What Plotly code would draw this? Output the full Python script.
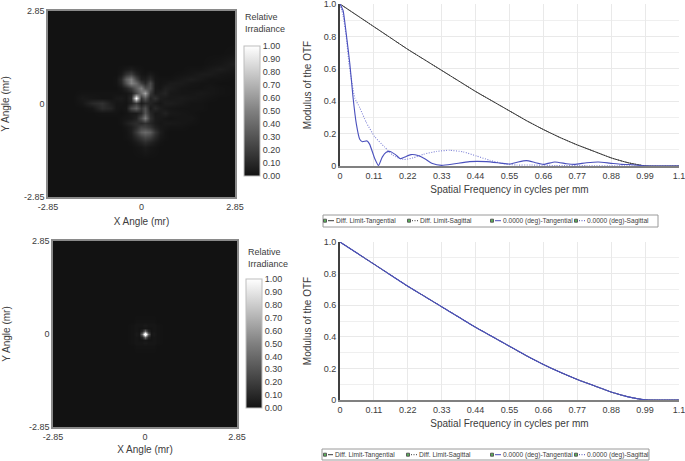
import numpy as np
import plotly.graph_objects as go

W, H = 685, 461

# ---- data ----
psf1_x = [-2.85,-2.4,-2.1,-1.8,-1.5,-1.2,-0.93,-0.78,-0.63,-0.48,-0.33,-0.18,-0.03,0.12,0.27,0.42,0.57,0.72,0.87,1.2,1.5,1.8,2.1,2.4,2.85]
psf1_y_top_down = [2.85,2.3,1.9,1.55,1.23,1.08,0.93,0.78,0.63,0.48,0.33,0.18,0.03,-0.12,-0.27,-0.42,-0.57,-0.72,-0.87,-1.02,-1.17,-1.32,-1.7,-2.2,-2.85]
psf1_percent = [
[0,0,0,0,0,0, 0,0,0,0,0,0,0,0,0,0,0,0,0, 0,0,0,0,0,0],
[0,0,0,0,0,0, 0,0,0,0,0,0,0,0,0,0,0,0,0, 0,0,0,0,0,0],
[0,0,0,0,0,0, 0,0,0,0,0,0,0,0,0,0,0,0,0, 0,0,0,0,0,0],
[0,0,0,0,0,0, 0,0,0,0,0,0,0,0,0,0,0,0,0, 0,0,0,0,0,1],
[0,0,0,0,0,0, 0,0,0,0,0,0,0,0,0,0,0,0,0, 0,0,0,1,2,5],
[0,0,0,0,0,0, 0,0,1,3,5,2,1,0,0,0,0,0,0, 0,1,1,3,5,2],
[0,0,0,0,0,0, 0,0,3,14,20,8,2,1,4,1,0,0,0, 1,2,4,4,2,1],
[0,0,0,0,0,0, 0,1,10,36,50,24,6,5,12,2,1,1,1, 3,5,3,1,1,0],
[0,0,0,0,0,0, 0,1,8,30,52,40,20,10,26,3,1,2,4, 4,2,1,1,0,0],
[0,0,0,0,0,0, 0,0,2,8,18,34,50,28,28,3,2,6,5, 2,1,1,2,1,0],
[0,0,0,1,1,1, 1,1,1,2,5,24,42,64,18,4,6,8,3, 2,2,3,2,1,0],
[0,0,0,3,2,1, 1,3,4,2,10,100,16,32,8,14,5,4,3, 4,3,2,1,0,0],
[0,0,0,2,10,14, 5,2,2,1,6,18,4,10,8,4,2,5,5, 3,1,1,0,0,0],
[0,0,0,0,2,12, 8,2,1,2,24,36,16,28,4,10,5,3,2, 1,1,1,0,0,0],
[0,0,0,0,0,1, 1,1,0,1,3,4,10,30,10,3,4,7,3, 2,1,0,0,0,0],
[0,0,0,0,0,0, 0,0,1,2,3,7,26,48,14,4,3,2,1, 2,2,0,0,0,0],
[0,0,0,0,0,0, 0,0,1,5,9,12,10,14,9,4,2,3,3, 2,1,0,0,0,0],
[0,0,0,0,0,0, 0,0,0,2,5,12,22,22,16,7,3,2,1, 1,0,0,0,0,0],
[0,0,0,0,0,0, 0,0,0,1,5,18,34,40,34,16,5,1,0, 0,0,0,0,0,0],
[0,0,0,0,0,0, 0,0,0,1,3,10,18,24,20,10,3,1,0, 0,0,0,0,0,0],
[0,0,0,0,0,0, 0,0,0,0,1,4,8,12,8,4,1,0,0, 0,0,0,0,0,0],
[0,0,0,0,0,0, 0,0,0,0,0,1,2,4,2,1,0,0,0, 0,0,0,0,0,0],
[0,0,0,0,0,0, 0,0,0,0,0,0,0,0,0,0,0,0,0, 0,0,0,0,0,0],
[0,0,0,0,0,0, 0,0,0,0,0,0,0,0,0,0,0,0,0, 0,0,0,0,0,0],
[0,0,0,0,0,0, 0,0,0,0,0,0,0,0,0,0,0,0,0, 0,0,0,0,0,0],
]

psf2_x = [-2.85,-0.6,-0.36,-0.27,-0.18,-0.09,-0.045,0,0.045,0.09,0.18,0.27,0.36,0.6,2.85]
psf2_y = [-2.85,-0.6,-0.36,-0.27,-0.18,-0.09,-0.045,0,0.045,0.09,0.18,0.27,0.36,0.6,2.85]
psf2_percent = [
[0,0,0,0,0,0,0,0,0,0,0,0,0,0,0],
[0,0,0,0,0,0,0,0,0,0,0,0,0,0,0],
[0,0,0,1,1,1,1,1,1,1,1,1,0,0,0],
[0,0,1,2,2,2,3,3,3,2,2,2,1,0,0],
[0,0,1,2,1,1,2,2,2,1,1,2,1,0,0],
[0,0,1,2,1,10,30,45,30,10,1,2,1,0,0],
[0,0,1,3,2,30,80,100,80,30,2,3,1,0,0],
[0,0,1,3,2,45,100,100,100,45,2,3,1,0,0],
[0,0,1,3,2,30,80,100,80,30,2,3,1,0,0],
[0,0,1,2,1,10,30,45,30,10,1,2,1,0,0],
[0,0,1,2,1,1,2,2,2,1,1,2,1,0,0],
[0,0,1,2,2,2,3,3,3,2,2,2,1,0,0],
[0,0,0,1,1,1,1,1,1,1,1,1,0,0,0],
[0,0,0,0,0,0,0,0,0,0,0,0,0,0,0],
[0,0,0,0,0,0,0,0,0,0,0,0,0,0,0],
]

diff_x = [0,0.055,0.11,0.165,0.22,0.275,0.33,0.385,0.44,0.495,0.55,0.605,0.66,0.715,0.77,0.825,0.88,0.935,0.99,1.1]
diff_y = [1,0.93,0.86,0.79,0.72,0.655,0.59,0.525,0.46,0.40,0.34,0.28,0.225,0.175,0.13,0.09,0.05,0.02,0.001,0]

tan_x = [0,0.01,0.02,0.032,0.042,0.053,0.064,0.073,0.088,0.096,0.113,0.125,0.137,0.15,0.163,0.18,0.196,0.21,0.23,0.253,0.275,0.30,0.33,0.367,0.42,0.475,0.52,0.55,0.578,0.605,0.632,0.66,0.697,0.735,0.76,0.80,0.838,0.875,0.913,0.95,0.985,1.02,1.1]
tan_y = [1,0.96,0.82,0.63,0.43,0.26,0.165,0.15,0.155,0.135,0.045,0.003,0.055,0.085,0.09,0.07,0.045,0.055,0.07,0.065,0.045,0.015,0.004,0.012,0.027,0.027,0.018,0.012,0.025,0.033,0.022,0.01,0.025,0.014,0.01,0.02,0.025,0.018,0.01,0.008,0.002,0,0]

sag_x = [0,0.01,0.02,0.03,0.04,0.048,0.064,0.085,0.113,0.145,0.172,0.205,0.237,0.27,0.313,0.356,0.40,0.443,0.486,0.53,0.573,0.62,0.7,0.8,0.9,1.0,1.1]
sag_y = [1,0.93,0.80,0.62,0.50,0.42,0.36,0.27,0.18,0.117,0.066,0.04,0.05,0.072,0.09,0.097,0.087,0.062,0.035,0.015,0.006,0.006,0.003,0.002,0.001,0,0]

series_names = ["Diff. Limit-Tangential","Diff. Limit-Sagittal","0.0000 (deg)-Tangential","0.0000 (deg)-Sagittal"]
freq_ticks = [0,0.11,0.22,0.33,0.44,0.55,0.66,0.77,0.88,0.99,1.1]
freq_labels = ["0","0.11","0.22","0.33","0.44","0.55","0.66","0.77","0.88","0.99","1.1"]
otf_ticks = [0,0.2,0.4,0.6,0.8,1.0]
otf_labels = ["0","0.2","0.4","0.6","0.8","1.0"]
angle_ticks = [-2.85,0,2.85]
angle_labels = ["-2.85","0","2.85"]
cbar_ticks = [0,0.1,0.2,0.3,0.4,0.5,0.6,0.7,0.8,0.9,1.0]
# ------------------------------------

FONT = "Liberation Sans"
TXT = "#3c3c3c"
BLUE = "#4a50bd"
DARK = "#3a3a3a"
GREY = [[0, "#121212"], [0.5, "#808080"], [1, "#ffffff"]]

def fx(p): return p / W
def fy(p): return 1 - p / H

fig = go.Figure()

def add_psf(x, y, z, xa, ya, cb_x, cb_top, cb_bot):
    fig.add_trace(go.Heatmap(
        x=x, y=y, z=np.array(z) / 100, xaxis=xa, yaxis=ya, zmin=0, zmax=1,
        zsmooth="best", colorscale=GREY, hoverinfo="skip",
        colorbar=dict(
            x=fx(cb_x), xanchor="left", xpad=0, ypad=0, thickness=16,
            y=fy(cb_bot), yanchor="bottom", len=cb_bot - cb_top, lenmode="pixels",
            outlinecolor="#bdbdbd", outlinewidth=1, tickvals=cbar_ticks,
            ticktext=[f"{t:.2f}" for t in cbar_ticks], ticks="",
            tickfont=dict(family=FONT, size=9, color=TXT))))

add_psf(psf1_x, psf1_y_top_down[::-1], psf1_percent[::-1], "x", "y", 244, 46, 176)
add_psf(psf2_x, psf2_y, psf2_percent, "x2", "y2", 246, 279, 408)

def add_otf(xa, ya, blue_x_t, blue_y_t, blue_x_s, blue_y_s, order):
    entries = [
        (series_names[0], diff_x, diff_y, DARK, "solid", 1),
        (series_names[1], diff_x, diff_y, DARK, "1px,1.5px", 1),
        (series_names[2], blue_x_t, blue_y_t, BLUE, "solid", 1.1),
        (series_names[3], blue_x_s, blue_y_s, "#7f83d6", "1px,1.5px", 1.1)]
    for i in order:
        name, xs, ys, col, dash, wd = entries[i]
        fig.add_trace(go.Scatter(x=xs, y=ys, xaxis=xa, yaxis=ya, name=name, mode="lines",
                                 showlegend=False, cliponaxis=False,
                                 line=dict(color=col, dash=dash, width=wd, shape="spline", smoothing=0.5)))

add_otf("x3", "y3", tan_x, tan_y, sag_x, sag_y, [0, 1, 3, 2])
add_otf("x4", "y4", diff_x, diff_y, diff_x, diff_y, [0, 1, 3, 2])

tf = dict(family=FONT, size=9, color=TXT)
ttl = dict(family=FONT, size=10, color=TXT)

def angle_axes(xn, yn, l, r, t, b, xstand):
    fig.update_layout({
        xn: dict(domain=[fx(l), fx(r)], range=[-2.85, 2.85], tickvals=angle_ticks, ticktext=angle_labels,
                 tickfont=tf, showgrid=False, zeroline=False, showline=True, linecolor="#8a8a8a", linewidth=1.5,
                 mirror=True, ticks="", ticklabeloverflow="allow",
                 title=dict(text="X Angle (mr)", font=ttl, standoff=xstand)),
        yn: dict(domain=[fy(b), fy(t)], range=[-2.85, 2.85], tickvals=angle_ticks, ticktext=angle_labels,
                 tickfont=tf, showgrid=False, zeroline=False, showline=True, linecolor="#8a8a8a", linewidth=1.5,
                 mirror=True, ticks="", ticklabeloverflow="allow",
                 title=dict(text="Y Angle (mr)", font=ttl, standoff=16)),
    })

def otf_axes(xn, yn, anchor_x, anchor_y, l, r, t, b):
    fig.update_layout({
        xn: dict(domain=[fx(l), fx(r)], range=[0, 1.1], tickvals=freq_ticks, ticktext=freq_labels, anchor=anchor_y,
                 tickfont=tf, showgrid=True, gridcolor="#e9e9e9", gridwidth=1, zeroline=False,
                 showline=True, linecolor="#808080", linewidth=2, ticks="", ticklabeloverflow="allow",
                 title=dict(text="Spatial Frequency in cycles per mm", font=ttl, standoff=6)),
        yn: dict(domain=[fy(b), fy(t)], range=[0, 1], tickvals=otf_ticks, ticktext=otf_labels, anchor=anchor_x,
                 tickfont=tf, showgrid=True, gridcolor="#e9e9e9", gridwidth=1, zeroline=False,
                 minor=dict(dtick=0.1, showgrid=True, gridcolor="#efefef", gridwidth=1, ticks=""),
                 showline=True, linecolor="#404040", linewidth=2, ticks="", ticklabeloverflow="allow",
                 title=dict(text="Modulus of the OTF", font=ttl, standoff=10)),
    })

fig.update_layout(xaxis=dict(anchor="y"), yaxis=dict(anchor="x"),
                  xaxis2=dict(anchor="y2"), yaxis2=dict(anchor="x2"))
angle_axes("xaxis", "yaxis", 48, 235, 11, 197, 7)
angle_axes("xaxis2", "yaxis2", 53, 237, 241, 427, 5)
otf_axes("xaxis3", "yaxis3", "x3", "y3", 340, 679, 4, 166)
otf_axes("xaxis4", "yaxis4", "x4", "y4", 340, 679, 242, 400)

ann, shp = [], []

def label(px, py, text, size=9, anchor="left", color=TXT):
    ann.append(dict(xref="paper", yref="paper", x=fx(px), y=fy(py), text=text, showarrow=False,
                    xanchor=anchor, yanchor="middle", align="left", borderpad=0,
                    font=dict(family=FONT, size=size, color=color)))

label(244, 23, "Relative<br>Irradiance", 9)
label(247, 258, "Relative<br>Irradiance", 9)

def rect(x0, y0, x1, y1, line, fill=None, w=1):
    shp.append(dict(type="rect", xref="paper", yref="paper", x0=fx(x0), x1=fx(x1), y0=fy(y0), y1=fy(y1),
                    line=dict(color=line, width=w), fillcolor=fill, layer="above"))

def legend(l, r, t, b, yc, icons, texts):
    rect(l, t, r, b, "#9a9a9a")
    for i, (ix, tx) in enumerate(zip(icons, texts)):
        rect(ix - 1.5, yc - 1.5, ix + 1.5, yc + 1.5, "#5a5a5a", "#58b258", 1)
        col = DARK if i < 2 else BLUE
        shp.append(dict(type="line", xref="paper", yref="paper", x0=fx(ix + 3), x1=fx(tx - 1), y0=fy(yc), y1=fy(yc),
                        line=dict(color=col, width=1, dash="1px,1.5px" if i % 2 else "solid"), layer="above"))
        label(tx, yc, series_names[i], 6.6)

legend(323, 658, 215, 227, 220.7, [325, 409, 492, 576], [335, 419, 502, 586])
legend(322, 649, 449, 460, 454.7, [325, 408, 492, 576], [334, 418, 502, 586])

fig.update_layout(width=W, height=H, margin=dict(l=0, r=0, t=0, b=0, pad=0, autoexpand=False), autosize=False,
                  paper_bgcolor="white", plot_bgcolor="white", showlegend=False,
                  annotations=ann, shapes=shp)

fig.write_html("out.html", post_script="document.body.style.margin='0';",
               config=dict(displayModeBar=False))
